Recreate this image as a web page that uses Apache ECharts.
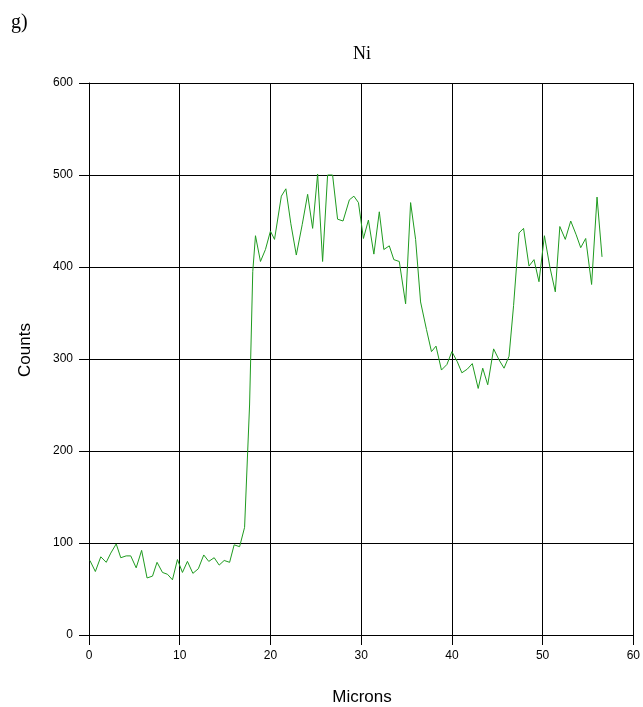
<!DOCTYPE html>
<html>
<head>
<meta charset="utf-8">
<script src="https://cdn.jsdelivr.net/npm/echarts@6/dist/echarts.min.js"></script>
<style>
html,body{margin:0;padding:0;background:#fff;}
#chart{width:643px;height:707px;}
</style>
</head>
<body>
<div id="chart"></div>
<script>
// Data (Ni line scan)
const microns = [0.1,0.7,1.3,1.9,2.4,3.0,3.5,4.1,4.6,5.2,5.8,6.4,7.0,7.5,8.1,8.65,9.2,9.75,
  10.3,10.85,11.45,12.05,12.65,13.2,13.8,14.35,14.9,15.5,16.0,16.6,17.15,17.7,18.05,18.35,18.9,19.45,
  20.0,20.45,21.2,21.7,22.25,22.85,23.5,24.1,24.65,25.2,25.75,26.3,26.85,27.4,28.0,28.7,29.2,29.7,
  30.25,30.8,31.4,32.0,32.5,33.1,33.6,34.2,34.9,35.45,36.0,36.55,37.2,37.75,38.25,38.85,39.45,
  40.0,40.6,41.1,41.7,42.25,42.9,43.4,43.95,44.6,45.2,45.75,46.3,46.8,47.4,47.9,48.5,49.05,49.6,
  50.2,50.8,51.4,51.9,52.5,53.1,53.7,54.2,54.75,55.4,56.0,56.55];
const counts = [81,69,85,79,89,99,84,86,86,73,92,62,64,79,68,66,60,82,
  68,80,67,72,87,80,84,76,81,79,98,96,117,250,395,434,406,419,
  439,430,477,485,447,413,446,479,442,501,406,500,500,452,450,473,477,470,
  431,451,414,460,419,423,408,406,360,470,430,362,332,308,314,288,294,
  308,297,285,289,295,268,290,272,311,299,290,303,358,437,442,401,408,384,
  434,400,373,444,430,450,435,421,431,381,476,411];
const xTicks = [0,10,20,30,40,50,60];
const yTicks = [0,100,200,300,400,500,600];

const chart = echarts.init(document.getElementById('chart'), null, {renderer:'canvas'});
const labelFont = {color:'#000', fontFamily:'"Liberation Sans", Arial, sans-serif', fontSize:12};
chart.setOption({
  animation:false,
  backgroundColor:'#fff',
  grid:{left:89, right:8, top:83, bottom:72, containLabel:false},
  xAxis:{
    type:'value', min:xTicks[0], max:xTicks[xTicks.length-1], interval:10,
    axisLine:{show:true, onZero:false, lineStyle:{color:'#000', width:1}},
    axisTick:{show:true, length:10, lineStyle:{color:'#000'}},
    axisLabel:Object.assign({margin:15, showMaxLabel:true, showMinLabel:true}, labelFont),
    splitLine:{show:true, lineStyle:{color:'#000', width:1}}
  },
  yAxis:{
    type:'value', min:yTicks[0], max:yTicks[yTicks.length-1], interval:100,
    axisLine:{show:true, lineStyle:{color:'#000', width:1}},
    axisTick:{show:true, length:10, lineStyle:{color:'#000'}},
    axisLabel:Object.assign({margin:16}, labelFont),
    splitLine:{show:true, lineStyle:{color:'#000', width:1}}
  },
  graphic:[
    {type:'text', left:11, top:13, style:{text:'g)', font:'20px "Liberation Serif", "Times New Roman", serif', fill:'#000'}},
    {type:'text', x:362, y:54, style:{text:'Ni', font:'18px "Liberation Serif", "Times New Roman", serif', fill:'#000', textAlign:'center', textVerticalAlign:'middle'}},
    {type:'text', x:25, y:350, rotation:Math.PI/2, style:{text:'Counts', font:'17px "Liberation Sans", Arial, sans-serif', fill:'#000', textAlign:'center', textVerticalAlign:'middle'}},
    {type:'text', x:362, y:697, style:{text:'Microns', font:'17px "Liberation Sans", Arial, sans-serif', fill:'#000', textAlign:'center', textVerticalAlign:'middle'}}
  ],
  series:[{
    type:'line',
    data:microns.map((m,i)=>[m, counts[i]]),
    showSymbol:false,
    lineStyle:{color:'#1f9b1f', width:1},
    itemStyle:{color:'#1f9b1f'}
  }]
});
</script>
</body>
</html>
